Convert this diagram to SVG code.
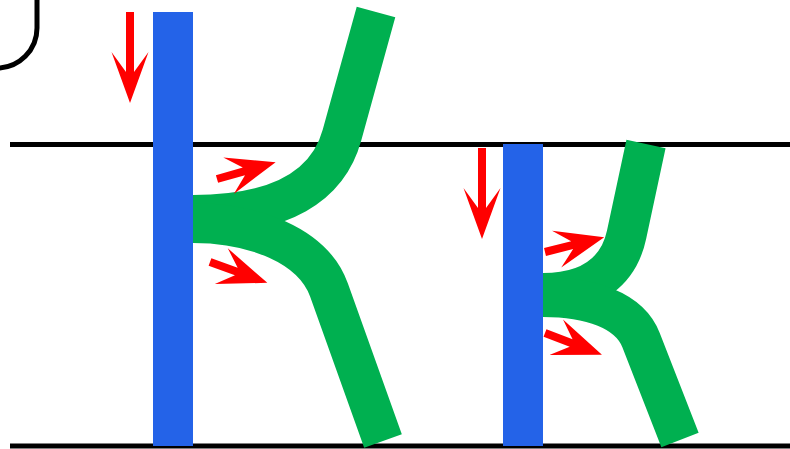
<svg xmlns="http://www.w3.org/2000/svg" width="790" height="449" viewBox="0 0 790 449">
<style>
.ln{stroke:#000;stroke-width:5;fill:none}
.bar{fill:#2463E8}
.br{stroke:#00B050;stroke-width:40;fill:none;stroke-linecap:butt;stroke-linejoin:round}
.ar{fill:#FF0000}
</style>
<defs>
<polygon id="sa" points="0,-4 28,-4 12,-19 61,0 12,19 28,4 0,4"/>
<polygon id="va" points="0,-4 60,-4 40,-18.5 91,0 40,18.5 60,4 0,4"/>
</defs>
<rect width="790" height="449" fill="#fff"/>
<g id="frame"><rect x="-100" y="-100" width="137" height="168" rx="40" ry="40" class="ln" stroke-width="4"/></g>
<g id="connectors">
<line x1="10" y1="144.5" x2="790" y2="144.5" class="ln"/>
<line x1="10" y1="446" x2="790" y2="446" class="ln"/>
</g>
<g id="k1">
<path class="br" d="M180 215 L193 215 C283 215 328.5 185 342 135 L376 12"/>
<path class="br" d="M180 223 L193 223 C253 223 312.8 245 329 290 L383 441"/>
</g>
<g id="k2">
<path class="br" d="M530 293 L543 293 C593 293 619 270 626.5 235 L646 144"/>
<path class="br" d="M530 297 L543 297 C590 297 629.3 310 641 340 L680 440"/>
</g>
<g id="bar1"><rect class="bar" x="153" y="12" width="40" height="434"/></g>
<g id="bar2"><rect class="bar" x="503" y="144" width="40" height="302"/></g>
<g id="arrows" class="ar">
<use href="#va" transform="translate(130,12) rotate(90)"/>
<use href="#va" transform="translate(482,148) rotate(90)"/>
<use href="#sa" transform="translate(217,179) rotate(-16)"/>
<use href="#sa" transform="translate(210,262) rotate(20)"/>
<use href="#sa" transform="translate(545,252) rotate(-14)"/>
<use href="#sa" transform="translate(545,333) rotate(21)"/>
</g>
</svg>
